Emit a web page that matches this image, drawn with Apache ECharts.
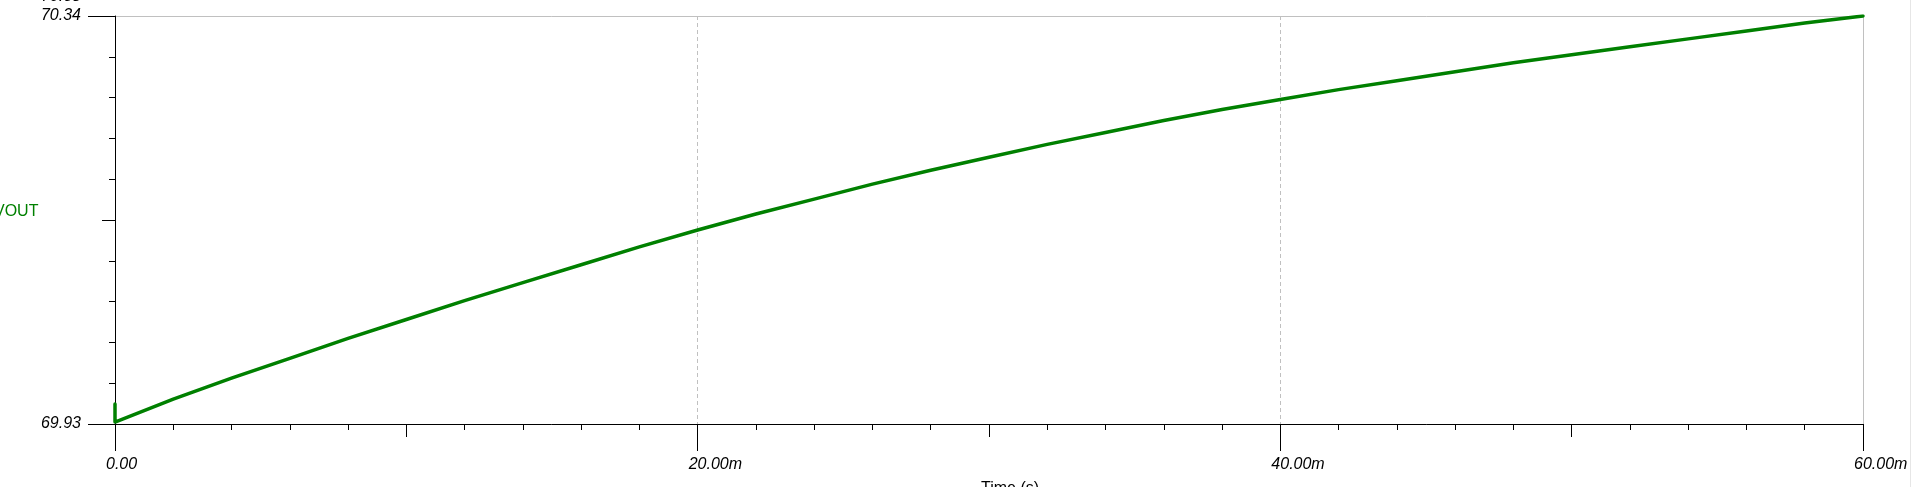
<!DOCTYPE html>
<html><head><meta charset="utf-8">
<script src="https://cdn.jsdelivr.net/npm/echarts@6/dist/echarts.min.js"></script>
<style>html,body{margin:0;padding:0;background:#fff;overflow:hidden}#c{width:1920px;height:500px}</style>
</head><body><div id="c"></div>
<script>
// ---- data (time in ms, VOUT in V) ----
const timeMs = [0, 0, 2, 4, 6, 8, 10, 12, 14, 16, 18, 20, 22, 24, 26, 28, 30, 32, 34, 36, 38, 40, 42, 44, 46, 48, 50, 52, 54, 56, 58, 60];
const vout = [69.950, 69.932, 69.955, 69.976, 69.996, 70.016, 70.035, 70.054, 70.072, 70.090, 70.108, 70.125, 70.141, 70.156, 70.171, 70.185, 70.198, 70.211, 70.223, 70.235, 70.246, 70.256, 70.266, 70.275, 70.284, 70.293, 70.301, 70.309, 70.317, 70.325, 70.333, 70.340];

// ---- axis ticks / labels ----
const xLabelValues = [0, 20, 40, 60];
const xTickLabels = ['0.00', '20.00m', '40.00m', '60.00m'];
const xMidTicks = [10, 30, 50];
const xMinorTicks = [2, 4, 6, 8, 12, 14, 16, 18, 22, 24, 26, 28, 32, 34, 36, 38, 42, 44, 46, 48, 52, 54, 56, 58];
const yLabelValues = [69.93, 70.34];
const yTickLabels = ['69.93', '70.34'];
const yMidTicks = [70.135];
const yMinorTicks = [69.971, 70.012, 70.053, 70.094, 70.176, 70.217, 70.258, 70.299];
const xMin = 0, xMax = 60, yMin = 69.93, yMax = 70.34;
const yName = 'VOUT';
const xName = 'Time (s)';
const cutLabel = '70.38';

const font = "'Liberation Sans', Arial, sans-serif";
const pts = timeMs.map((t, i) => [t, vout[i]]);

function xAx(extra) {
  return Object.assign({
    type: 'value', position: 'bottom', min: xMin, max: xMax, gridIndex: 0,
    axisLine: { show: false, onZero: false },
    axisTick: { show: false },
    axisLabel: { show: false },
    splitLine: { show: false }
  }, extra);
}
function yAx(extra) {
  return Object.assign({
    type: 'value', position: 'left', min: yMin, max: yMax, gridIndex: 0,
    axisLine: { show: false, onZero: false },
    axisTick: { show: false },
    axisLabel: { show: false },
    splitLine: { show: false }
  }, extra);
}

const chart = echarts.init(document.getElementById('c'), null, { renderer: 'canvas' });
chart.setOption({
  animation: false,
  backgroundColor: '#ffffff',
  grid: { left: 115, right: 57, top: 16, bottom: 76, containLabel: false, outerBoundsMode: 'none' },
  xAxis: [
    xAx({
      z: 5, interval: 20,
      axisLine: { show: true, onZero: false, lineStyle: { color: '#000', width: 1 } },
      axisTick: { show: true, length: 27, customValues: xLabelValues, lineStyle: { color: '#000', width: 1 } },
      axisLabel: {
        show: true, customValues: xLabelValues, margin: 33, align: 'left', padding: [0, 0, 0, -9],
        color: '#000', fontSize: 16, fontStyle: 'italic', fontFamily: font,
        formatter: v => xTickLabels[xLabelValues.indexOf(v)] ?? ''
      },
      splitLine: { show: true, lineStyle: { color: '#c0c0c0', width: 1, type: [4, 3] } }
    }),
    xAx({ z: 5, axisTick: { show: true, length: 13, customValues: xMidTicks, lineStyle: { color: '#000', width: 1 } } }),
    xAx({ z: 5, axisTick: { show: true, length: 6, customValues: xMinorTicks, lineStyle: { color: '#000', width: 1 } } }),
    xAx({ z: 1, position: 'top', axisLine: { show: true, onZero: false, lineStyle: { color: '#c0c0c0', width: 1 } } })
  ],
  yAxis: [
    yAx({
      z: 5,
      axisLine: { show: true, onZero: false, lineStyle: { color: '#000', width: 1 } },
      axisTick: { show: true, length: 27, customValues: yLabelValues, lineStyle: { color: '#000', width: 1 } },
      axisLabel: {
        show: true, customValues: yLabelValues, margin: 34,
        color: '#000', fontSize: 16, fontStyle: 'italic', fontFamily: font,
        formatter: v => yTickLabels[yLabelValues.findIndex(a => Math.abs(a - v) < 1e-6)] ?? ''
      }
    }),
    yAx({ z: 5, axisTick: { show: true, length: 13, customValues: yMidTicks, lineStyle: { color: '#000', width: 1 } } }),
    yAx({ z: 5, axisTick: { show: true, length: 6, customValues: yMinorTicks, lineStyle: { color: '#000', width: 1 } } }),
    yAx({ z: 1, position: 'right', axisLine: { show: true, onZero: false, lineStyle: { color: '#c0c0c0', width: 1 } } })
  ],
  series: [{
    type: 'line', xAxisIndex: 0, yAxisIndex: 0, z: 10,
    data: pts, showSymbol: false, symbol: 'none', smooth: false,
    lineStyle: { color: '#008000', width: 3.5, join: 'round', cap: 'round' },
    emphasis: { disabled: true }
  }],
  graphic: [
    { type: 'text', left: -6, top: 204, z: 20,
      style: { text: yName, fill: '#008000', font: "16px 'Liberation Sans', Arial, sans-serif" } },
    { type: 'text', x: 1010, y: 481, z: 20,
      style: { text: xName, fill: '#000', textAlign: 'center', textVerticalAlign: 'top', font: "16px 'Liberation Sans', Arial, sans-serif" } },
    { type: 'text', x: 81, y: -3, z: 20,
      style: { text: cutLabel, fill: '#000', textAlign: 'right', textVerticalAlign: 'middle', font: "italic 16px 'Liberation Sans', Arial, sans-serif" } },
    { type: 'line', z: 20, shape: { x1: 1910.5, y1: 0, x2: 1910.5, y2: 487 }, style: { stroke: '#e6e6e6', lineWidth: 1 } },
    { type: 'rect', z: 50, shape: { x: 0, y: 487, width: 1920, height: 13 }, style: { fill: '#ffffff' } }
  ]
});
</script>
</body></html>
